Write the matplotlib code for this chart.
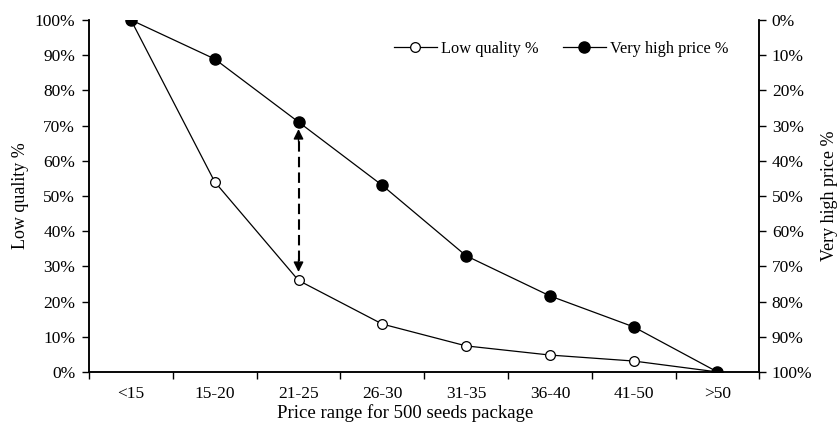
import matplotlib.pyplot as plt
from matplotlib.ticker import PercentFormatter

plt.rcParams['font.family'] = ['Liberation Serif', 'DejaVu Serif']
plt.rcParams['font.size'] = 12.5

categories = ['<15', '15-20', '21-25', '26-30', '31-35', '36-40', '41-50', '>50']
low_quality = [100, 54, 26, 13.6, 7.4, 4.8, 3.1, 0]
very_high_price = [0, 11.1, 29, 47, 67, 78.4, 87.2, 100]

fig = plt.figure(figsize=(8.4, 4.33), dpi=100)
ax1 = fig.add_axes([0.106, 0.141, 0.798, 0.813])
ax2 = ax1.twinx()

x = list(range(len(categories)))
ax1.plot(x, [v / 100 for v in low_quality], color='black', lw=0.9, marker='o',
         ms=7, mfc='white', mec='black', mew=0.9, zorder=3, label='Low quality %')
ax2.plot(x, [v / 100 for v in very_high_price], color='black', lw=0.9, marker='o',
         ms=8, mfc='black', mec='black', zorder=4, label='Very high price %')

ax1.set_xlim(-0.5, len(categories) - 0.5)
ax1.set_ylim(0, 1)
ax2.set_ylim(1, 0)
ax1.set_yticks([i / 10 for i in range(11)])
ax2.set_yticks([i / 10 for i in range(11)])
ax1.yaxis.set_major_formatter(PercentFormatter(1.0, decimals=0))
ax2.yaxis.set_major_formatter(PercentFormatter(1.0, decimals=0))

# category labels between boundary ticks
ax1.set_xticks([i + 0.5 for i in range(-1, len(categories))])
ax1.set_xticklabels([])
ax1.set_xticks(x, minor=True)
ax1.set_xticklabels(categories, minor=True)
ax1.tick_params(axis='x', which='minor', length=0, pad=10)
ax1.tick_params(axis='x', which='major', direction='out', length=5, width=1)
ax1.tick_params(axis='y', direction='out', length=5, width=1, pad=5)
ax2.tick_params(axis='y', direction='out', length=5, width=1, pad=4)

for ax in (ax1, ax2):
    ax.spines['top'].set_visible(False)
    for s in ('left', 'right', 'bottom'):
        ax.spines[s].set_linewidth(1.1)

ax1.set_ylabel('Low quality %', labelpad=4, fontsize=13)
ax2.set_ylabel('Very high price %', labelpad=6, fontsize=13)
ax1.set_xlabel('Price range for 500 seeds package', labelpad=2, fontsize=13.5)
ax1.xaxis.label.set_x(0.472)

# dashed double arrow between the two series at 21-25
lo, hi = 0.284, 0.69
ax1.plot([2, 2], [lo + 0.03, hi - 0.03], color='black', lw=1.5,
         ls=(0, (5, 2.5)), zorder=2)
head = dict(arrowstyle='-|>', color='black', lw=1, mutation_scale=15,
            shrinkA=0, shrinkB=0)
ax1.annotate('', xy=(2, hi), xytext=(2, hi - 0.035), arrowprops=head)
ax1.annotate('', xy=(2, lo), xytext=(2, lo + 0.035), arrowprops=head)

h1, l1 = ax1.get_legend_handles_labels()
h2, l2 = ax2.get_legend_handles_labels()
fig.legend(h1 + h2, l1 + l2, loc='center', bbox_to_anchor=(0.668, 0.887),
           ncol=2, frameon=False, handlelength=2.6, handletextpad=0.25,
           columnspacing=1.5, fontsize=11.8)

fig.savefig('out.png', dpi=100)
